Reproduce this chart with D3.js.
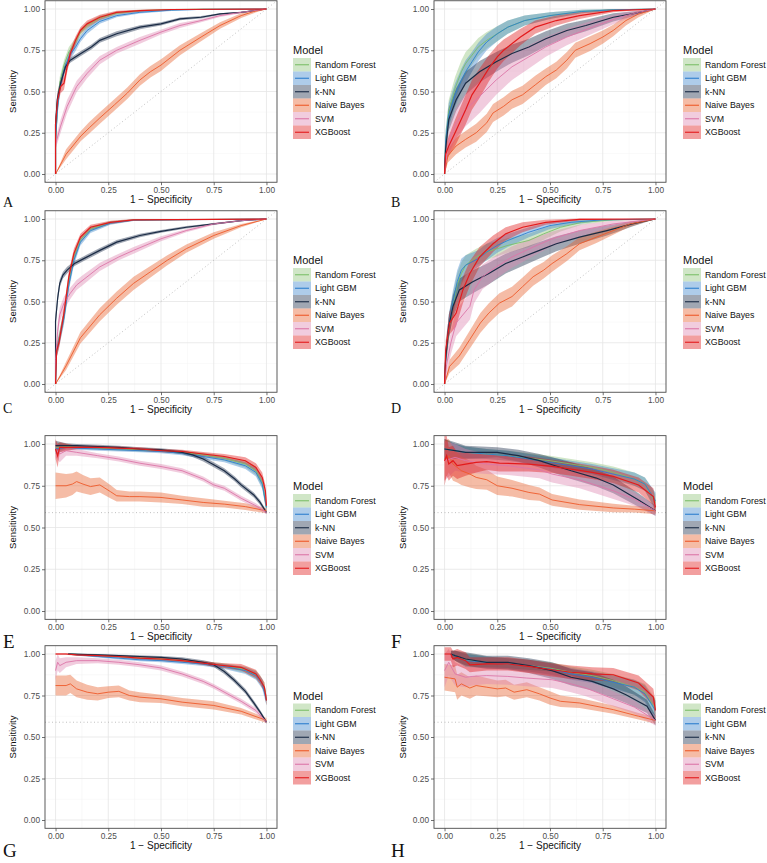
<!DOCTYPE html>
<html>
<head>
<meta charset="utf-8">
<script src="https://cdn.jsdelivr.net/npm/d3@7"></script>
<style>
  body { margin: 0; background: #fff; }
  svg { display: block; font-family: "Liberation Sans", Arial, sans-serif; }
</style>
</head>
<body>
<svg id="chart" width="767" height="863"></svg>
<script>
// model order = legend order
const models = ["Random Forest", "Light GBM", "k-NN", "Naive Bayes", "SVM", "XGBoost"];
const tickValues = [0, 0.25, 0.5, 0.75, 1];
const minorTicks = [0.125, 0.375, 0.625, 0.875];
const prBaseline = 0.589;

// each series: [1 - specificity, sensitivity, half width of the band]
const rocA = [
  [[0,0,0],[0,0.2,.03],[0.01,0.42,.04],[0.02,0.55,.04],[0.04,0.66,.03],[0.063,0.74,.03],[0.095,0.80,.025],[0.118,0.86,.02],[0.15,0.90,.02],[0.21,0.945,.015],[0.29,0.975,.01],[0.4,0.99,.006],[0.55,0.996,.004],[0.7,0.999,.002],[1,1,0]],
  [[0,0,0],[0,0.2,.03],[0.01,0.40,.04],[0.02,0.52,.04],[0.04,0.63,.03],[0.063,0.71,.03],[0.095,0.77,.025],[0.118,0.82,.02],[0.15,0.87,.02],[0.21,0.925,.015],[0.29,0.96,.01],[0.4,0.98,.008],[0.55,0.993,.005],[0.7,0.998,.002],[1,1,0]],
  [[0,0,0],[0,0.3,.05],[0.008,0.45,.04],[0.024,0.55,.03],[0.047,0.65,.02],[0.07,0.69,.015],[0.12,0.73,.015],[0.17,0.77,.015],[0.21,0.81,.015],[0.29,0.85,.015],[0.40,0.89,.012],[0.50,0.91,.01],[0.59,0.94,.008],[0.69,0.95,.007],[0.78,0.97,.005],[0.88,0.98,.004],[1,1,0]],
  [[0,0,0],[0.05,0.12,.03],[0.12,0.23,.03],[0.16,0.28,.035],[0.21,0.34,.035],[0.28,0.42,.035],[0.34,0.49,.035],[0.40,0.57,.035],[0.45,0.62,.035],[0.50,0.66,.035],[0.59,0.75,.03],[0.69,0.83,.025],[0.78,0.90,.02],[0.88,0.96,.015],[0.94,0.985,.01],[1,1,0]],
  [[0,0,0],[0,0.18,.03],[0.024,0.29,.04],[0.055,0.41,.04],[0.10,0.53,.035],[0.15,0.61,.03],[0.21,0.69,.025],[0.29,0.75,.02],[0.40,0.81,.02],[0.50,0.86,.015],[0.59,0.90,.015],[0.69,0.93,.01],[0.78,0.96,.008],[0.88,0.98,.005],[1,1,0]],
  [[0,0,0],[0,0.3,.04],[0.01,0.45,.04],[0.024,0.53,.04],[0.04,0.55,.04],[0.055,0.65,.035],[0.07,0.73,.03],[0.095,0.81,.025],[0.118,0.87,.02],[0.15,0.91,.02],[0.21,0.95,.015],[0.29,0.98,.01],[0.4,0.99,.006],[0.55,0.997,.003],[1,1,0]]
];

const rocB = [
  [[0,0,0],[0.005,0.2,.06],[0.02,0.38,.07],[0.05,0.52,.07],[0.08,0.62,.07],[0.10,0.67,.07],[0.13,0.72,.06],[0.16,0.77,.055],[0.20,0.81,.05],[0.25,0.85,.045],[0.30,0.89,.04],[0.38,0.93,.03],[0.50,0.96,.02],[0.65,0.985,.01],[0.80,0.995,.005],[1,1,0]],
  [[0,0,0],[0.005,0.2,.06],[0.02,0.36,.07],[0.05,0.48,.07],[0.08,0.57,.07],[0.10,0.62,.07],[0.13,0.68,.06],[0.16,0.74,.055],[0.20,0.80,.05],[0.25,0.85,.045],[0.30,0.89,.04],[0.38,0.93,.03],[0.50,0.96,.02],[0.65,0.985,.01],[0.80,0.995,.005],[1,1,0]],
  [[0,0,0],[0.005,0.15,.06],[0.02,0.33,.07],[0.055,0.45,.07],[0.10,0.55,.07],[0.166,0.62,.065],[0.245,0.68,.06],[0.32,0.73,.055],[0.40,0.77,.05],[0.48,0.82,.045],[0.58,0.87,.04],[0.67,0.90,.035],[0.80,0.95,.025],[0.89,0.97,.015],[1,1,0]],
  [[0,0,0],[0.016,0.11,.04],[0.055,0.17,.05],[0.10,0.21,.05],[0.15,0.25,.055],[0.20,0.31,.055],[0.23,0.37,.055],[0.28,0.41,.055],[0.32,0.45,.055],[0.37,0.48,.055],[0.43,0.54,.055],[0.48,0.59,.05],[0.53,0.63,.05],[0.58,0.69,.05],[0.62,0.75,.045],[0.69,0.79,.045],[0.75,0.83,.04],[0.80,0.87,.035],[0.86,0.93,.03],[0.92,0.97,.02],[1,1,0]],
  [[0,0,0],[0.01,0.13,.06],[0.03,0.23,.08],[0.055,0.31,.09],[0.10,0.39,.1],[0.166,0.47,.1],[0.245,0.57,.09],[0.32,0.65,.08],[0.40,0.71,.07],[0.48,0.77,.06],[0.58,0.83,.05],[0.70,0.89,.04],[0.83,0.95,.025],[0.92,0.98,.015],[1,1,0]],
  [[0,0,0],[0.005,0.12,.05],[0.02,0.17,.06],[0.05,0.25,.08],[0.10,0.39,.09],[0.13,0.48,.09],[0.166,0.55,.09],[0.21,0.64,.08],[0.25,0.71,.07],[0.28,0.75,.065],[0.36,0.83,.05],[0.43,0.89,.04],[0.53,0.93,.03],[0.64,0.96,.02],[0.80,0.99,.01],[1,1,0]]
];

const rocC = [
  [[0,0,0],[0.005,0.2,.04],[0.016,0.27,.04],[0.04,0.41,.04],[0.063,0.62,.035],[0.087,0.77,.03],[0.118,0.875,.02],[0.166,0.94,.015],[0.26,0.978,.01],[0.37,0.994,.005],[1,1,0]],
  [[0,0,0],[0.005,0.2,.04],[0.016,0.26,.04],[0.04,0.40,.04],[0.063,0.60,.035],[0.087,0.75,.03],[0.118,0.86,.02],[0.166,0.93,.015],[0.26,0.975,.01],[0.37,0.993,.005],[1,1,0]],
  [[0,0,0],[0,0.38,.04],[0.01,0.52,.03],[0.02,0.61,.025],[0.035,0.66,.02],[0.055,0.69,.02],[0.09,0.73,.015],[0.134,0.76,.015],[0.21,0.81,.015],[0.29,0.86,.013],[0.40,0.90,.01],[0.50,0.925,.008],[0.62,0.95,.007],[0.75,0.97,.005],[0.88,0.99,.003],[1,1,0]],
  [[0,0,0],[0.05,0.11,.025],[0.118,0.28,.035],[0.21,0.42,.04],[0.29,0.52,.04],[0.37,0.61,.04],[0.45,0.68,.035],[0.53,0.75,.03],[0.62,0.82,.025],[0.75,0.90,.02],[0.88,0.96,.01],[1,1,0]],
  [[0,0,0],[0,0.15,.04],[0.01,0.32,.05],[0.02,0.42,.045],[0.04,0.49,.04],[0.07,0.55,.035],[0.10,0.60,.03],[0.13,0.63,.03],[0.21,0.71,.025],[0.30,0.77,.02],[0.37,0.81,.02],[0.50,0.88,.015],[0.62,0.93,.01],[0.75,0.97,.007],[0.88,0.99,.004],[1,1,0]],
  [[0,0,0],[0.005,0.2,.04],[0.016,0.25,.04],[0.04,0.43,.04],[0.063,0.65,.035],[0.087,0.79,.03],[0.118,0.89,.02],[0.166,0.95,.015],[0.26,0.98,.01],[0.37,0.995,.005],[1,1,0]]
];

const rocD = [
  [[0,0,0],[0.005,0.15,.06],[0.02,0.33,.07],[0.04,0.48,.07],[0.06,0.60,.07],[0.08,0.67,.07],[0.10,0.72,.06],[0.15,0.77,.05],[0.20,0.80,.05],[0.25,0.82,.045],[0.30,0.84,.045],[0.40,0.87,.04],[0.47,0.91,.035],[0.55,0.95,.025],[0.65,0.98,.015],[0.80,0.995,.005],[1,1,0]],
  [[0,0,0],[0.005,0.15,.06],[0.02,0.35,.07],[0.04,0.50,.07],[0.06,0.62,.07],[0.08,0.69,.07],[0.10,0.72,.06],[0.13,0.74,.055],[0.16,0.76,.05],[0.20,0.80,.05],[0.25,0.84,.045],[0.30,0.87,.04],[0.40,0.92,.03],[0.50,0.96,.02],[0.60,0.98,.015],[0.75,0.995,.005],[1,1,0]],
  [[0,0,0],[0.005,0.15,.06],[0.02,0.35,.07],[0.04,0.47,.07],[0.07,0.57,.07],[0.134,0.62,.07],[0.21,0.67,.065],[0.29,0.73,.06],[0.37,0.77,.055],[0.45,0.81,.05],[0.53,0.85,.045],[0.64,0.89,.04],[0.77,0.93,.03],[0.89,0.97,.015],[1,1,0]],
  [[0,0,0],[0.024,0.107,.04],[0.07,0.17,.05],[0.12,0.27,.055],[0.17,0.37,.06],[0.21,0.43,.06],[0.26,0.49,.06],[0.32,0.53,.06],[0.37,0.59,.055],[0.42,0.65,.055],[0.47,0.69,.05],[0.51,0.73,.05],[0.58,0.79,.045],[0.64,0.85,.04],[0.72,0.89,.035],[0.80,0.93,.025],[0.88,0.97,.015],[1,1,0]],
  [[0,0,0],[0.01,0.12,.06],[0.03,0.25,.07],[0.055,0.37,.08],[0.12,0.47,.08],[0.14,0.57,.08],[0.18,0.65,.075],[0.245,0.71,.07],[0.32,0.77,.065],[0.42,0.83,.055],[0.51,0.88,.045],[0.64,0.93,.035],[0.80,0.97,.02],[1,1,0]],
  [[0,0,0],[0.005,0.2,.06],[0.024,0.37,.07],[0.055,0.43,.08],[0.087,0.57,.08],[0.12,0.67,.075],[0.166,0.77,.06],[0.23,0.85,.05],[0.29,0.91,.04],[0.37,0.95,.03],[0.48,0.98,.015],[0.64,0.998,.005],[1,1,0]]
];

// precision-recall panels, same layout
const prE = [
  [[0,0.98,.03],[0.05,0.985,.015],[0.1,0.98,.01],[0.2,0.975,.01],[0.3,0.97,.01],[0.4,0.965,.01],[0.5,0.96,.01],[0.6,0.95,.01],[0.7,0.935,.012],[0.8,0.915,.015],[0.9,0.88,.02],[0.95,0.84,.025],[0.98,0.77,.03],[1,0.62,.03]],
  [[0,0.97,.03],[0.05,0.98,.015],[0.1,0.975,.01],[0.2,0.97,.01],[0.3,0.965,.01],[0.4,0.96,.01],[0.5,0.955,.01],[0.6,0.945,.012],[0.7,0.925,.015],[0.8,0.905,.015],[0.9,0.87,.02],[0.95,0.83,.025],[0.98,0.76,.03],[1,0.62,.03]],
  [[0,0.99,.03],[0.05,0.99,.015],[0.1,0.99,.01],[0.2,0.985,.01],[0.3,0.98,.01],[0.4,0.97,.01],[0.5,0.965,.01],[0.6,0.95,.012],[0.65,0.935,.013],[0.7,0.91,.015],[0.75,0.876,.015],[0.8,0.84,.015],[0.85,0.79,.015],[0.88,0.755,.015],[0.94,0.695,.015],[0.97,0.65,.015],[1,0.59,.01]],
  [[0,0.75,.08],[0.05,0.75,.07],[0.08,0.76,.065],[0.10,0.775,.06],[0.13,0.76,.055],[0.166,0.745,.05],[0.21,0.755,.045],[0.26,0.715,.04],[0.29,0.69,.035],[0.35,0.685,.03],[0.40,0.685,.03],[0.50,0.68,.03],[0.60,0.665,.025],[0.70,0.65,.025],[0.80,0.64,.02],[0.90,0.625,.02],[1,0.60,.015]],
  [[0,0.97,.05],[0.02,0.94,.05],[0.05,0.96,.03],[0.10,0.95,.02],[0.20,0.93,.015],[0.30,0.91,.015],[0.40,0.885,.015],[0.50,0.865,.015],[0.60,0.84,.015],[0.70,0.79,.015],[0.75,0.755,.015],[0.80,0.735,.015],[0.88,0.675,.015],[0.95,0.63,.015],[1,0.59,.01]],
  [[0,0.97,.06],[0.01,0.93,.07],[0.02,0.98,.03],[0.1,0.98,.01],[0.2,0.98,.01],[0.3,0.975,.01],[0.4,0.97,.01],[0.5,0.96,.01],[0.6,0.955,.01],[0.7,0.94,.012],[0.8,0.925,.015],[0.9,0.90,.02],[0.95,0.86,.025],[0.98,0.80,.03],[0.995,0.72,.035],[1,0.63,.03]]
];

const prF = [
  [[0,0.97,.06],[0.05,0.96,.04],[0.1,0.95,.035],[0.2,0.94,.03],[0.3,0.93,.03],[0.4,0.915,.03],[0.5,0.90,.03],[0.6,0.88,.03],[0.7,0.86,.03],[0.8,0.83,.035],[0.9,0.79,.04],[0.95,0.76,.04],[1,0.65,.05]],
  [[0,0.97,.06],[0.05,0.96,.04],[0.1,0.95,.035],[0.2,0.94,.03],[0.3,0.93,.03],[0.4,0.91,.03],[0.5,0.89,.03],[0.6,0.87,.03],[0.7,0.85,.03],[0.8,0.82,.035],[0.9,0.79,.04],[0.95,0.76,.04],[1,0.66,.05]],
  [[0,0.97,.06],[0.05,0.96,.05],[0.1,0.95,.04],[0.25,0.95,.03],[0.35,0.93,.035],[0.45,0.90,.04],[0.51,0.876,.045],[0.6,0.84,.05],[0.72,0.796,.05],[0.80,0.755,.05],[0.86,0.71,.045],[0.92,0.665,.04],[1,0.60,.03]],
  [[0,0.9,.12],[0.02,0.93,.1],[0.04,0.88,.1],[0.06,0.86,.09],[0.08,0.84,.085],[0.12,0.82,.08],[0.15,0.80,.07],[0.20,0.786,.06],[0.25,0.75,.055],[0.32,0.735,.05],[0.40,0.71,.045],[0.45,0.70,.04],[0.51,0.665,.035],[0.64,0.637,.03],[0.80,0.617,.025],[0.90,0.61,.02],[1,0.60,.02]],
  [[0,0.90,.12],[0.05,0.92,.08],[0.10,0.90,.07],[0.2,0.88,.06],[0.3,0.87,.055],[0.45,0.845,.05],[0.51,0.82,.05],[0.64,0.785,.05],[0.80,0.72,.05],[0.9,0.67,.04],[1,0.60,.03]],
  [[0,0.90,.15],[0.01,0.93,.12],[0.02,0.88,.1],[0.04,0.90,.09],[0.06,0.87,.08],[0.1,0.88,.07],[0.15,0.89,.06],[0.2,0.895,.05],[0.26,0.886,.05],[0.4,0.88,.045],[0.51,0.866,.04],[0.6,0.85,.04],[0.7,0.83,.04],[0.8,0.806,.04],[0.92,0.755,.045],[0.99,0.685,.05],[1,0.62,.04]]
];

const prG = [
  [[0.06,1,.005],[0.2,0.99,.006],[0.3,0.985,.008],[0.4,0.975,.008],[0.5,0.97,.01],[0.6,0.96,.01],[0.7,0.945,.012],[0.8,0.93,.015],[0.9,0.905,.02],[0.95,0.875,.025],[0.97,0.845,.025],[0.99,0.80,.03],[1,0.72,.03]],
  [[0.06,1,.005],[0.2,0.985,.006],[0.3,0.975,.008],[0.4,0.965,.008],[0.5,0.96,.01],[0.6,0.95,.01],[0.7,0.94,.012],[0.8,0.925,.015],[0.9,0.90,.02],[0.95,0.87,.025],[0.98,0.82,.03],[1,0.72,.03]],
  [[0.06,1,.005],[0.2,0.995,.005],[0.3,0.99,.006],[0.4,0.985,.008],[0.5,0.98,.008],[0.6,0.97,.01],[0.7,0.95,.012],[0.75,0.935,.014],[0.8,0.895,.015],[0.845,0.845,.015],[0.9,0.775,.015],[0.94,0.705,.015],[0.97,0.65,.012],[1,0.59,.01]],
  [[0,0.81,.06],[0.05,0.81,.06],[0.07,0.82,.055],[0.1,0.79,.05],[0.15,0.77,.045],[0.2,0.76,.04],[0.25,0.77,.035],[0.3,0.775,.035],[0.35,0.75,.03],[0.4,0.74,.03],[0.5,0.73,.025],[0.6,0.71,.025],[0.75,0.69,.025],[0.88,0.655,.02],[1,0.60,.015]],
  [[0,0.90,.06],[0.01,0.95,.05],[0.02,0.93,.045],[0.05,0.95,.03],[0.1,0.96,.02],[0.2,0.96,.015],[0.3,0.95,.015],[0.4,0.935,.015],[0.5,0.916,.015],[0.6,0.88,.015],[0.7,0.835,.015],[0.75,0.805,.015],[0.88,0.715,.015],[0.95,0.66,.015],[1,0.59,.01]],
  [[0,1,.005],[0.05,1,.005],[0.1,0.995,.005],[0.2,0.99,.006],[0.3,0.985,.008],[0.4,0.975,.008],[0.5,0.97,.01],[0.6,0.96,.01],[0.7,0.945,.012],[0.8,0.93,.015],[0.88,0.92,.02],[0.95,0.88,.025],[0.97,0.845,.025],[0.99,0.80,.03],[1,0.72,.03]]
];

const prH = [
  [[0.03,1,.02],[0.05,0.99,.03],[0.1,0.965,.04],[0.2,0.95,.035],[0.3,0.94,.035],[0.4,0.93,.035],[0.5,0.915,.035],[0.6,0.89,.035],[0.7,0.87,.035],[0.8,0.84,.04],[0.9,0.80,.045],[0.95,0.77,.05],[1,0.67,.06]],
  [[0.03,1,.02],[0.05,0.99,.03],[0.1,0.96,.04],[0.2,0.95,.035],[0.3,0.94,.035],[0.4,0.93,.035],[0.5,0.91,.035],[0.6,0.88,.035],[0.7,0.86,.035],[0.8,0.83,.04],[0.9,0.80,.045],[0.95,0.76,.05],[1,0.66,.06]],
  [[0.03,1,.02],[0.05,0.99,.03],[0.1,0.97,.04],[0.2,0.95,.04],[0.3,0.95,.04],[0.4,0.93,.045],[0.51,0.90,.05],[0.6,0.86,.05],[0.7,0.835,.055],[0.8,0.79,.055],[0.86,0.755,.05],[0.96,0.685,.04],[1,0.60,.03]],
  [[0,0.86,.08],[0.05,0.85,.08],[0.06,0.80,.075],[0.08,0.82,.07],[0.12,0.795,.065],[0.15,0.81,.06],[0.2,0.80,.055],[0.25,0.79,.05],[0.29,0.795,.05],[0.33,0.77,.045],[0.39,0.785,.045],[0.45,0.76,.04],[0.5,0.735,.04],[0.55,0.715,.035],[0.64,0.705,.03],[0.8,0.665,.025],[0.92,0.625,.02],[1,0.60,.02]],
  [[0,0.90,.1],[0.02,0.95,.08],[0.05,0.88,.07],[0.1,0.86,.06],[0.13,0.865,.055],[0.2,0.87,.05],[0.3,0.865,.05],[0.39,0.855,.05],[0.51,0.845,.05],[0.6,0.82,.05],[0.67,0.795,.05],[0.8,0.73,.045],[0.9,0.68,.04],[1,0.60,.03]],
  [[0,1,.04],[0.03,1,.04],[0.04,0.97,.05],[0.06,0.98,.05],[0.1,0.96,.05],[0.12,0.935,.045],[0.2,0.94,.04],[0.3,0.94,.04],[0.4,0.925,.04],[0.51,0.905,.04],[0.6,0.89,.04],[0.7,0.88,.04],[0.8,0.875,.04],[0.92,0.825,.045],[0.99,0.74,.05],[1,0.66,.05]]
];

const lineColors = ["#7cc06a", "#2d7fcf", "#1a2b45", "#ee5a2a", "#dc76a8", "#e31a1c"];
const fillColors = ["#90c37a", "#3e85cc", "#1c2e4a", "#e75f2c", "#de85b1", "#e01a1a"];
const fillAlpha = 0.42;

// layout: columns give x pixels, rows give pixel of value 1 and value 0
const cols = [
  { left: 45, right: 277, titleX: 13, letterX: 3, legendX: 293 },
  { left: 434, right: 666, titleX: 403, letterX: 391, legendX: 683 }
];
const rows = [
  { top: 9, bot: 174, letterY: 207, letterSize: 14 },
  { top: 219, bot: 384, letterY: 413, letterSize: 14 },
  { top: 444, bot: 611, letterY: 648, letterSize: 19 },
  { top: 654, bot: 820, letterY: 857, letterSize: 19 }
];

const panels = [
  { id: "A", data: rocA, kind: "roc", col: 0, row: 0 },
  { id: "B", data: rocB, kind: "roc", col: 1, row: 0 },
  { id: "C", data: rocC, kind: "roc", col: 0, row: 1 },
  { id: "D", data: rocD, kind: "roc", col: 1, row: 1 },
  { id: "E", data: prE, kind: "pr", col: 0, row: 2 },
  { id: "F", data: prF, kind: "pr", col: 1, row: 2 },
  { id: "G", data: prG, kind: "pr", col: 0, row: 3 },
  { id: "H", data: prH, kind: "pr", col: 1, row: 3 }
];

const svg = d3.select("#chart");
svg.append("rect").attr("width", 767).attr("height", 863).attr("fill", "#fff");
const defs = svg.append("defs");

panels.forEach(drawPanel);

function drawPanel(p) {
  const c = cols[p.col], r = rows[p.row];
  const x = d3.scaleLinear().domain([-0.05, 1.05]).range([c.left, c.right]);
  const y = d3.scaleLinear().domain([0, 1]).range([r.bot, r.top]);
  const top = y(1.05), bottom = y(-0.05);
  const midY = (top + bottom) / 2;
  const g = svg.append("g");

  defs.append("clipPath").attr("id", "clip" + p.id)
    .append("rect")
    .attr("x", c.left).attr("y", top)
    .attr("width", c.right - c.left).attr("height", bottom - top);

  // grid
  g.selectAll(".vmin").data(minorTicks).enter().append("line")
    .attr("x1", d => x(d)).attr("x2", d => x(d)).attr("y1", top).attr("y2", bottom)
    .attr("stroke", "#f3f3f3").attr("stroke-width", 0.5);
  g.selectAll(".hmin").data(minorTicks).enter().append("line")
    .attr("y1", d => y(d)).attr("y2", d => y(d)).attr("x1", c.left).attr("x2", c.right)
    .attr("stroke", "#f3f3f3").attr("stroke-width", 0.5);
  g.selectAll(".vmaj").data(tickValues).enter().append("line")
    .attr("x1", d => x(d)).attr("x2", d => x(d)).attr("y1", top).attr("y2", bottom)
    .attr("stroke", "#e6e6e6").attr("stroke-width", 0.8);
  g.selectAll(".hmaj").data(tickValues).enter().append("line")
    .attr("y1", d => y(d)).attr("y2", d => y(d)).attr("x1", c.left).attr("x2", c.right)
    .attr("stroke", "#e6e6e6").attr("stroke-width", 0.8);

  const plot = g.append("g").attr("clip-path", "url(#clip" + p.id + ")");

  // reference line
  const ref = p.kind === "roc"
    ? [[-0.05, -0.05], [1.05, 1.05]]
    : [[-0.05, prBaseline], [1.05, prBaseline]];
  plot.append("path")
    .attr("d", d3.line().x(d => x(d[0])).y(d => y(d[1]))(ref))
    .attr("fill", "none").attr("stroke", "#b0b0b0")
    .attr("stroke-width", 0.8).attr("stroke-dasharray", "1,2.5");

  const area = d3.area()
    .x(d => x(d[0]))
    .y0(d => y(d[1] - d[2]))
    .y1(d => y(d[1] + d[2]));
  const line = d3.line()
    .x(d => x(d[0]))
    .y(d => y(d[1]));

  plot.selectAll(".band").data(p.data).enter().append("path")
    .attr("d", area)
    .attr("fill", (d, i) => fillColors[i])
    .attr("fill-opacity", fillAlpha);

  plot.selectAll(".curve").data(p.data).enter().append("path")
    .attr("d", line)
    .attr("fill", "none")
    .attr("stroke", (d, i) => lineColors[i])
    .attr("stroke-width", (d, i) => (i === 2 || i === 5) ? 1.2 : 0.9);

  // border
  g.append("rect")
    .attr("x", c.left).attr("y", top)
    .attr("width", c.right - c.left).attr("height", bottom - top)
    .attr("fill", "none").attr("stroke", "#4a4a4a").attr("stroke-width", 0.9);

  // axes
  const xAxis = g.append("g")
    .attr("transform", "translate(0," + bottom + ")")
    .call(d3.axisBottom(x).tickValues(tickValues).tickFormat(d3.format(".2f")).tickSize(3).tickPadding(1.5));
  const yAxis = g.append("g")
    .attr("transform", "translate(" + c.left + ",0)")
    .call(d3.axisLeft(y).tickValues(tickValues).tickFormat(d3.format(".2f")).tickSize(3).tickPadding(2));
  [xAxis, yAxis].forEach(a => {
    a.select(".domain").remove();
    a.selectAll(".tick line").attr("stroke", "#4a4a4a").attr("stroke-width", 0.8);
    a.selectAll(".tick text")
      .attr("fill", "#4d4d4d")
      .style("font-size", "8.3px")
      .style("font-family", "'Liberation Sans', Arial, sans-serif");
  });

  // axis titles
  g.append("text")
    .attr("x", (c.left + c.right) / 2).attr("y", bottom + 21)
    .attr("text-anchor", "middle")
    .style("font-size", "10px").attr("fill", "#111")
    .text("1 \u2212 Specificity");
  g.append("text")
    .attr("transform", "translate(" + c.titleX + "," + midY + ") rotate(-90)")
    .attr("text-anchor", "middle").attr("dy", "0.35em")
    .style("font-size", "9.5px").attr("fill", "#111")
    .text("Sensitivity");

  // panel letter
  g.append("text")
    .attr("x", c.letterX).attr("y", r.letterY)
    .style("font-family", "'Liberation Serif', 'Times New Roman', serif")
    .style("font-size", r.letterSize + "px").attr("fill", "#111")
    .text(p.id);

  // legend
  const lg = g.append("g").attr("transform", "translate(" + c.legendX + "," + (midY - 41.5) + ")");
  lg.append("text").attr("x", 0).attr("y", 4)
    .style("font-size", "11px").attr("fill", "#111")
    .text("Model");
  const item = lg.selectAll(".item").data(models).enter().append("g")
    .attr("transform", (d, i) => "translate(0," + (8 + i * 13.5) + ")");
  item.append("rect").attr("width", 18).attr("height", 13.5)
    .attr("fill", (d, i) => fillColors[i]).attr("fill-opacity", fillAlpha);
  item.append("line").attr("x1", 2).attr("x2", 16).attr("y1", 6.75).attr("y2", 6.75)
    .attr("stroke", (d, i) => lineColors[i]).attr("stroke-width", 1.1);
  item.append("text").attr("x", 22).attr("y", 6.75).attr("dy", "0.35em")
    .style("font-size", "8.8px").attr("fill", "#111")
    .text(d => d);
}
</script>
</body>
</html>
